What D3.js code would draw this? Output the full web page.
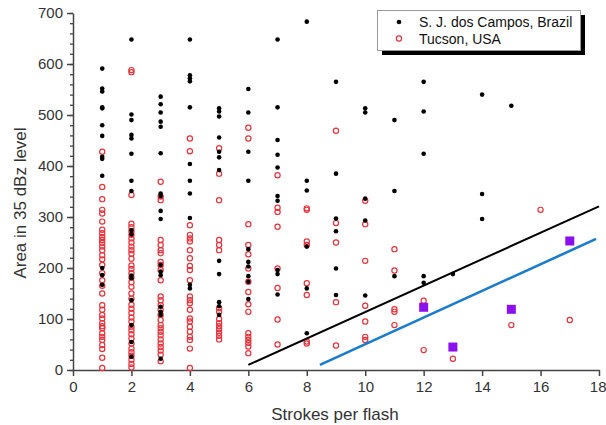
<!DOCTYPE html>
<html>
<head>
<meta charset="utf-8">
<script src="https://cdn.jsdelivr.net/npm/d3@7"></script>
<style>
  html, body { margin: 0; padding: 0; background: #fff; }
  svg { display: block; font-family: "Liberation Sans", Arial, sans-serif; }
</style>
</head>
<body>
<svg id="chart" width="606" height="425"></svg>
<script>
// ---- data ----
const strokes = [1, 2, 3, 4, 5, 6, 7, 8, 9, 10, 11, 12, 13, 14, 15, 16, 17];

const brazilArea = [
  [591, 552, 546, 515, 513, 480, 459, 418, 414, 381, 200, 186, 167],
  [648, 501, 490, 461, 454, 424, 371, 351, 274, 266, 185, 180, 137, 88, 55, 26],
  [536, 521, 505, 487, 477, 425, 346, 341, 312, 296, 206, 193, 186, 124, 114, 108, 22],
  [648, 578, 572, 566, 515, 404, 371, 346, 298, 167, 160],
  [513, 507, 497, 456, 428, 417, 392, 214, 188, 133, 125, 108],
  [551, 505, 428, 371, 237, 212, 203, 184, 173, 139],
  [648, 515, 451, 422, 397, 341, 332, 196, 188, 148],
  [683, 371, 352, 242, 160, 72],
  [565, 385, 297, 272, 199, 147],
  [513, 505, 336, 293, 146],
  [490, 351, 184],
  [565, 507, 424, 184, 171],
  [188],
  [540, 345, 296],
  [518],
  [],
  []
];

const tucsonArea = [
  [428, 359, 335, 314, 307, 291, 275, 268, 261, 255, 249, 242, 235, 225, 217, 206, 190, 176, 165, 150, 127, 118, 108, 101, 92, 86, 82, 72, 65, 59, 49, 41, 24, 4],
  [588, 584, 343, 287, 280, 272, 265, 258, 250, 242, 235, 228, 218, 205, 198, 190, 182, 172, 163, 150, 140, 128, 120, 112, 103, 95, 85, 78, 70, 62, 52, 42, 35, 28, 20, 12, 5],
  [369, 340, 333, 255, 245, 235, 229, 212, 206, 196, 176, 144, 137, 127, 118, 108, 98, 88, 82, 75, 68, 60, 52, 45, 38, 30, 17],
  [454, 429, 284, 265, 258, 252, 235, 219, 204, 196, 176, 144, 137, 131, 118, 101, 95, 85, 75, 65, 59, 42, 4],
  [435, 385, 333, 255, 245, 235, 121, 114, 100, 92, 86, 80, 73, 67, 60],
  [475, 454, 286, 245, 227, 199, 173, 153, 129, 114, 72, 65, 59, 53, 46, 33],
  [382, 318, 310, 281, 199, 161, 99, 50],
  [317, 314, 252, 245, 170, 147, 56, 52],
  [469, 288, 250, 133, 48],
  [332, 286, 214, 126, 95, 65, 59],
  [237, 195, 119, 114, 88],
  [136, 39],
  [22],
  [],
  [88],
  [314],
  [98]
];

const squareStrokes = [12, 13, 15, 17];
const squareArea = [123, 45, 119, 253];

const blackLine = [[6, 10], [18, 321]];
const blueLine = [[8.45, 10], [17.9, 257]];

const xTicks = [0, 2, 4, 6, 8, 10, 12, 14, 16, 18];
const yTicks = [0, 100, 200, 300, 400, 500, 600, 700];
const yMinorTicks = d3.range(0, 701, 20);

const seriesNames = ["S. J. dos Campos, Brazil", "Tucson, USA"];

// ---- build ----
const svg = d3.select("#chart");
const x = d3.scaleLinear().domain([0, 18]).range([73, 599]);
const y = d3.scaleLinear().domain([0, 700]).range([370, 13]);

const axisColor = "#444";
const textColor = "#333";

// minor y ticks
const yMinor = svg.append("g").attr("transform", "translate(73,0)")
  .call(d3.axisLeft(y).tickValues(yMinorTicks).tickSize(3).tickFormat("").tickSizeOuter(0));
yMinor.select(".domain").remove();
yMinor.selectAll("line").attr("stroke", axisColor).attr("stroke-width", 1.3);

// major y axis
const yAx = svg.append("g").attr("transform", "translate(73,0)")
  .call(d3.axisLeft(y).tickValues(yTicks).tickSize(6).tickPadding(4).tickSizeOuter(0));
yAx.select(".domain").attr("stroke", axisColor).attr("stroke-width", 1.5);
yAx.selectAll("line").attr("stroke", axisColor).attr("stroke-width", 1.5);
yAx.selectAll("text").attr("fill", textColor).style("font-size", "15px")
  .style("font-family", "Liberation Sans, Arial, sans-serif");

// x axis
const xAx = svg.append("g").attr("transform", "translate(0,370)")
  .call(d3.axisBottom(x).tickValues(xTicks).tickSize(6).tickPadding(5).tickSizeOuter(0));
xAx.select(".domain").attr("stroke", axisColor).attr("stroke-width", 1.5);
xAx.selectAll("line").attr("stroke", axisColor).attr("stroke-width", 1.5);
xAx.selectAll("text").attr("fill", textColor).style("font-size", "15px")
  .style("font-family", "Liberation Sans, Arial, sans-serif");
// keep the last label inside the window
xAx.selectAll(".tick").filter(d => d === 18).select("text").attr("text-anchor", "end").attr("dx", 7);

// axis titles
svg.append("text")
  .attr("x", 335).attr("y", 420)
  .attr("text-anchor", "middle")
  .attr("fill", textColor)
  .style("font-size", "17px")
  .text("Strokes per flash");

svg.append("text")
  .attr("transform", "translate(26,203) rotate(-90)")
  .attr("text-anchor", "middle")
  .attr("fill", textColor)
  .style("font-size", "17px")
  .text("Area in 35 dBz level");

// data points
const tucsonPts = [];
const brazilPts = [];
strokes.forEach((s, i) => {
  tucsonArea[i].forEach(v => tucsonPts.push([s, v]));
  brazilArea[i].forEach(v => brazilPts.push([s, v]));
});

const red = "#e8333c";

svg.append("g").selectAll("circle").data(tucsonPts).join("circle")
  .attr("cx", d => x(d[0])).attr("cy", d => y(d[1]))
  .attr("r", 2.6)
  .attr("fill", "none")
  .attr("stroke", red)
  .attr("stroke-width", 1.2);

svg.append("g").selectAll("circle").data(brazilPts).join("circle")
  .attr("cx", d => x(d[0])).attr("cy", d => y(d[1]))
  .attr("r", 2.3)
  .attr("fill", "#000");

// lines
const line = d3.line().x(d => x(d[0])).y(d => y(d[1]));
svg.append("path").datum(blackLine).attr("d", line)
  .attr("stroke", "#000").attr("stroke-width", 2).attr("fill", "none");
svg.append("path").datum(blueLine).attr("d", line)
  .attr("stroke", "#1a7ccc").attr("stroke-width", 2.6).attr("fill", "none");

// squares
svg.append("g").selectAll("rect").data(squareStrokes.map((s, i) => [s, squareArea[i]])).join("rect")
  .attr("x", d => x(d[0]) - 4.5).attr("y", d => y(d[1]) - 4.5)
  .attr("width", 9).attr("height", 9)
  .attr("fill", "#8a10f0");

// legend
const lg = svg.append("g");
lg.append("rect").attr("x", 382).attr("y", 15).attr("width", 203).attr("height", 40).attr("fill", "#000");
lg.append("rect").attr("x", 377.5).attr("y", 10.5).attr("width", 203).attr("height", 40)
  .attr("fill", "#fff").attr("stroke", "#999").attr("stroke-width", 1);
lg.append("circle").attr("cx", 399).attr("cy", 22).attr("r", 2.3).attr("fill", "#000");
lg.append("circle").attr("cx", 399).attr("cy", 38.5).attr("r", 2.6)
  .attr("fill", "none").attr("stroke", red).attr("stroke-width", 1.2);
lg.selectAll("text.leg").data(seriesNames).join("text")
  .attr("class", "leg")
  .attr("x", 419).attr("y", (d, i) => 27 + i * 16.5)
  .attr("fill", "#111")
  .style("font-size", "14px")
  .text(d => d);
</script>
</body>
</html>
